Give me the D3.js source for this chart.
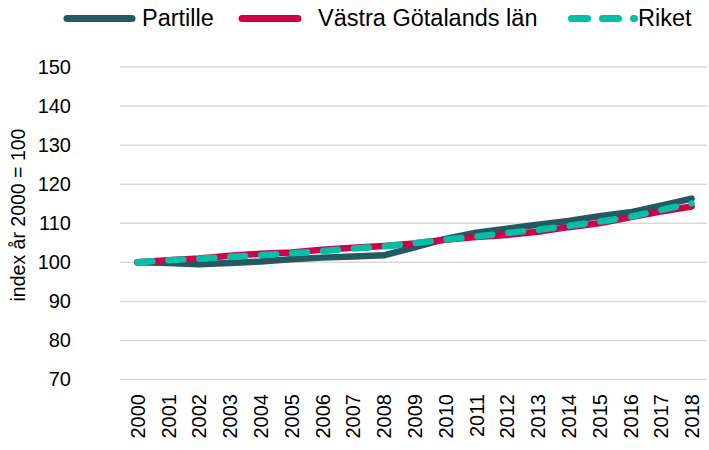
<!DOCTYPE html>
<html>
<head>
<meta charset="utf-8">
<script src="https://cdn.jsdelivr.net/npm/d3@7"></script>
<style>
  body { margin: 0; background: #fff; }
  text { font-family: "Liberation Sans", Arial, sans-serif; fill: #000; }
</style>
</head>
<body>
<div id="chart"></div>
<script>
// data
var years = ["2000","2001","2002","2003","2004","2005","2006","2007","2008","2009",
             "2010","2011","2012","2013","2014","2015","2016","2017","2018"];
var partille = [100, 99.8, 99.5, 99.8, 100.2, 100.8, 101.2, 101.5, 101.8, 103.8,
                106.0, 107.6, 108.6, 109.6, 110.6, 111.8, 112.8, 114.5, 116.3];
var vastra = [100, 100.5, 101.0, 101.7, 102.2, 102.5, 103.2, 103.7, 104.2, 104.8,
              105.8, 106.5, 107.0, 107.8, 109.0, 110.0, 111.5, 113.0, 114.3];
var riket = [100, 100.5, 100.9, 101.4, 101.8, 102.3, 102.9, 103.5, 104.1, 104.9,
             105.8, 106.6, 107.5, 108.3, 109.3, 110.4, 111.6, 113.4, 115.1];
var yTicks = [70, 80, 90, 100, 110, 120, 130, 140, 150];

var series = [
  {name: "Partille", values: partille, color: "#235a62", dash: null},
  {name: "Västra Götalands län", values: vastra, color: "#d1004b", dash: null},
  {name: "Riket", values: riket, color: "#00c0a5", dash: "15,16"}
];

var W = 709, H = 450;
var margin = {top: 67, right: 2, bottom: 71, left: 122},
    width = W - margin.left - margin.right,
    height = H - margin.top - margin.bottom;

var svg = d3.select("#chart").append("svg")
    .attr("width", W).attr("height", H);
var g = svg.append("g")
    .attr("transform", "translate(" + margin.left + "," + margin.top + ")");

var x = d3.scalePoint().domain(years).range([0, width]).padding(0.5);
var y = d3.scaleLinear().domain([70, 150]).range([height + 0.5, 0]);

// gridlines
g.append("g").selectAll("line").data(yTicks).enter().append("line")
    .attr("x1", -2).attr("x2", width)
    .attr("y1", d => y(d)).attr("y2", d => y(d))
    .style("stroke", "#d9d9d9").style("stroke-width", 1.5);

// y axis labels
var yAxis = g.append("g")
    .attr("transform", "translate(-51,0)")
    .call(d3.axisLeft(y).tickValues(yTicks).tickSize(0).tickPadding(0));
yAxis.select(".domain").remove();
yAxis.selectAll("text").style("font-size", "20px").style("font-family", "Liberation Sans, Arial, sans-serif");

// x axis labels
var xAxis = g.append("g")
    .attr("transform", "translate(0," + height + ")")
    .call(d3.axisBottom(x).tickSize(0));
xAxis.select(".domain").remove();
xAxis.selectAll("text")
    .style("font-size", "20px").style("font-family", "Liberation Sans, Arial, sans-serif")
    .attr("transform", "rotate(-90)")
    .attr("text-anchor", "end")
    .attr("x", -15).attr("y", 0).attr("dy", "0.35em");

// y axis title
svg.append("text")
    .attr("transform", "translate(25,215) rotate(-90)")
    .attr("text-anchor", "middle")
    .style("font-size", "19.5px")
    .text("index år 2000 = 100");

// lines
var line = d3.line().x((d, i) => x(years[i])).y(d => y(d));
series.forEach(function(s) {
  g.append("path")
    .datum(s.values)
    .attr("d", line)
    .style("fill", "none")
    .style("stroke", s.color)
    .style("stroke-width", 6.5)
    .style("stroke-linecap", "round")
    .style("stroke-linejoin", "round")
    .style("stroke-dasharray", s.dash);
});

// legend
var legend = [
  {s: series[0], x1: 67, x2: 132, tx: 142},
  {s: series[1], x1: 242, x2: 298, tx: 318},
  {s: series[2], x1: 571.5, x2: 634.5, tx: 638}
];
legend.forEach(function(l) {
  svg.append("line")
    .attr("x1", l.x1).attr("x2", l.x2).attr("y1", 18.5).attr("y2", 18.5)
    .style("stroke", l.s.color).style("stroke-width", 7)
    .style("stroke-linecap", "round")
    .style("stroke-dasharray", l.s.dash ? "16,15" : null);
  svg.append("text")
    .attr("x", l.tx).attr("y", 25.5)
    .style("font-size", "23.5px")
    .text(l.s.name);
});
</script>
</body>
</html>
